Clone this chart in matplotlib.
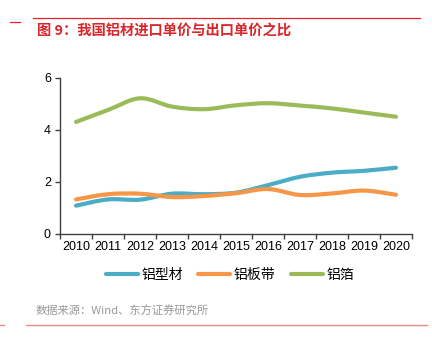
import matplotlib
matplotlib.use("Agg")
import matplotlib.pyplot as plt
from matplotlib.path import Path
from matplotlib.patches import PathPatch
from matplotlib.lines import Line2D
import numpy as np

years = ["2010", "2011", "2012", "2013", "2014", "2015", "2016", "2017", "2018", "2019", "2020"]
profile = [1.09, 1.33, 1.32, 1.55, 1.53, 1.59, 1.88, 2.20, 2.36, 2.43, 2.55]   # 铝型材
sheet = [1.33, 1.53, 1.55, 1.42, 1.46, 1.57, 1.73, 1.50, 1.56, 1.67, 1.51]     # 铝板带
foil = [4.31, 4.77, 5.22, 4.90, 4.80, 4.95, 5.03, 4.94, 4.83, 4.67, 4.51]      # 铝箔
names = ["铝型材", "铝板带", "铝箔"]
colors = ["#4bacc6", "#f79646", "#9bbb59"]

plt.rcParams['font.family'] = ['Liberation Sans', 'Noto Sans CJK SC', 'DejaVu Sans']
CJK = ['Noto Sans CJK SC', 'DejaVu Sans']

fig = plt.figure(figsize=(4.32, 3.49), dpi=100)
W, H = 432, 349
ax = fig.add_axes([60 / W, 1 - 234 / H, 352 / W, 156 / H])


def smooth_path(xs, ys):
    pts = np.column_stack([xs, ys]).astype(float)
    n = len(pts)
    verts = [pts[0]]
    codes = [Path.MOVETO]
    for i in range(n - 1):
        p0 = pts[i - 1] if i > 0 else pts[i]
        p1 = pts[i]
        p2 = pts[i + 1]
        p3 = pts[i + 2] if i + 2 < n else pts[i + 1]
        c1 = p1 + (p2 - p0) / 6.0
        c2 = p2 - (p3 - p1) / 6.0
        verts += [c1, c2, p2]
        codes += [Path.CURVE4] * 3
    return Path(verts, codes)


x = np.arange(len(years))
for ser, c in zip([profile, sheet, foil], colors):
    patch = PathPatch(smooth_path(x, ser), facecolor='none', edgecolor=c,
                      linewidth=3.0, capstyle='round', joinstyle='round')
    ax.add_patch(patch)

ax.set_xlim(-0.5, len(years) - 0.5)
ax.set_ylim(0, 6)
ax.set_yticks([0, 2, 4, 6])
ax.set_xticks(np.arange(-0.5, len(years), 1.0))
ax.set_xticklabels([])
ax.set_xticks(x, minor=True)
ax.set_xticklabels(years, minor=True)
ax.tick_params(axis='x', which='minor', length=0, labelsize=9, pad=5, colors='#000000')
ax.tick_params(axis='x', which='major', length=3.5, width=1, color='#404040', direction='out')
ax.tick_params(axis='y', length=3.5, width=1, color='#404040', labelsize=9, pad=3, direction='out')
for s in ['top', 'right']:
    ax.spines[s].set_visible(False)
for s in ['left', 'bottom']:
    ax.spines[s].set_color('#404040')
    ax.spines[s].set_linewidth(1.0)

# legend
handles = [Line2D([], [], color=c, linewidth=3.0, solid_capstyle='round') for c in colors]
leg = fig.legend(handles, names, loc='center', bbox_to_anchor=(230 / W, 1 - 275 / H),
                 ncol=3, frameon=False, handlelength=2.3, handletextpad=0.25,
                 columnspacing=1.1, prop={'family': CJK, 'size': 10})

# header decoration
fig.add_artist(Line2D([33 / W, 420 / W], [1 - 18 / H, 1 - 18 / H], color='#e0262b', linewidth=0.9))
fig.add_artist(Line2D([10 / W, 20 / W], [1 - 22 / H, 1 - 22 / H], color='#e0262b', linewidth=0.9))
fig.text(37 / W, 1 - 32 / H, "图 9：我国铝材进口单价与出口单价之比", color='#d9262b',
         fontsize=10.3, fontweight='bold', family=CJK, va='center', ha='left')

# footer
fig.text(36 / W, 1 - 311 / H, "数据来源：Wind、东方证券研究所", color='#999999',
         fontsize=8.1, family=CJK, va='center', ha='left')
fig.add_artist(Line2D([26 / W, 427 / W], [1 - 324.5 / H, 1 - 324.5 / H], color='#e88a8a', linewidth=1.0))
fig.add_artist(Line2D([0 / W, 4 / W], [1 - 324.5 / H, 1 - 324.5 / H], color='#e88a8a', linewidth=1.0))

fig.savefig("out.png", dpi=100)
